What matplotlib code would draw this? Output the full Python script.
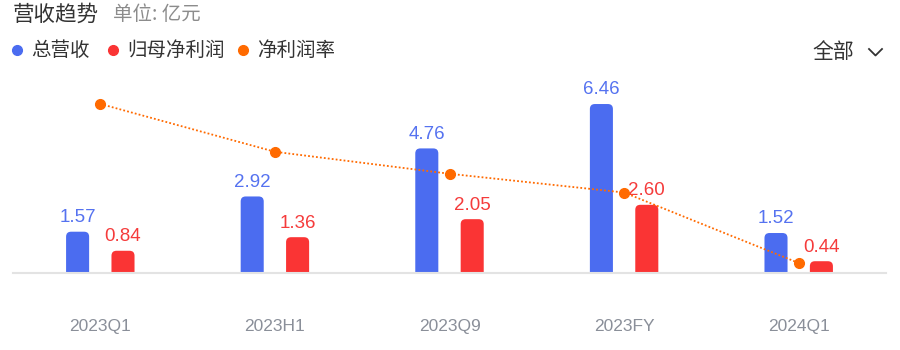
import matplotlib
matplotlib.use("Agg")
import matplotlib.pyplot as plt
from matplotlib.patches import FancyBboxPatch
from matplotlib.lines import Line2D
import numpy as np

plt.rcParams['font.family'] = ['Liberation Sans', 'Noto Sans CJK SC', 'DejaVu Sans']

categories = ["2023Q1", "2023H1", "2023Q9", "2023FY", "2024Q1"]
revenue = [1.57, 2.92, 4.76, 6.46, 1.52]
net_profit = [0.84, 1.36, 2.05, 2.60, 0.44]
net_margin = [53.5, 46.1, 42.7, 39.8, 28.9]

BLUE = "#4B6CF0"
RED = "#FA3434"
ORANGE = "#FF6A00"

W, H = 900, 350
fig = plt.figure(figsize=(9, 3.5), dpi=100)

ax_left, ax_right = 13, 886
ax_bottom_px, ax_top_px = 272.7, 80
ax = fig.add_axes([ax_left / W, (H - ax_bottom_px) / H,
                   (ax_right - ax_left) / W, (ax_bottom_px - ax_top_px) / H])
x = np.arange(len(categories))
ax.set_xlim(-0.5, len(categories) - 0.5)
ax.set_ylim(0, 7.38)

bw = 0.132
off = 0.13
bars_b = ax.bar(x - off, revenue, width=bw, color=BLUE)
bars_r = ax.bar(x + off, net_profit, width=bw, color=RED)

# Replace with rounded-top bars
px_per_x = (ax_right - ax_left) / 5.0
px_per_y = (ax_bottom_px - ax_top_px) / 7.38
r_px = 5
r_x = r_px / px_per_x
aspect = (1 / px_per_y) / (1 / px_per_x)
for bars, col in ((bars_b, BLUE), (bars_r, RED)):
    for b in bars:
        b.set_visible(False)
        bx, bwid, bh = b.get_x(), b.get_width(), b.get_height()
        ext = r_x * aspect
        p = FancyBboxPatch((bx, -ext), bwid, bh + ext,
                           boxstyle=f"round,pad=0,rounding_size={r_x}",
                           mutation_aspect=aspect, facecolor=col,
                           edgecolor='none', clip_on=True, zorder=2)
        ax.add_patch(p)

for xi, v in zip(x, revenue):
    ax.annotate(f"{v:.2f}", (xi - off, v), xytext=(0, 4), textcoords='offset points',
                ha='center', va='bottom', color="#5572F0", fontsize=13.5)
for xi, v in zip(x, net_profit):
    ax.annotate(f"{v:.2f}", (xi + off, v), xytext=(0, 4), textcoords='offset points',
                ha='center', va='bottom', color="#F53B3B", fontsize=13.5)

for s in ['top', 'right', 'left']:
    ax.spines[s].set_visible(False)
ax.spines['bottom'].set_color('#E3E3E3')
ax.spines['bottom'].set_linewidth(1.5)
ax.set_yticks([])
ax.set_xticks(x)
ax.set_xticklabels(categories, color="#8A8F99", fontsize=12.5)
ax.tick_params(axis='x', length=0, pad=33)

ax2 = ax.twinx()
ax2.set_ylim(27.4, 57.2)
ax2.plot(x, net_margin, color=ORANGE, linestyle=(0, (1, 1.2)), linewidth=1.3,
         marker='o', markersize=7, zorder=5)
ax2.set_yticks([])
for s in ax2.spines.values():
    s.set_visible(False)
ax2.set_xlim(-0.5, len(categories) - 0.5)

# Title
fig.text(13 / W, 1 - 15 / H, "营收趋势", fontsize=15.5, color="#333333", va='center', ha='left',
         family=['Noto Sans CJK SC'])
fig.text(113 / W, 1 - 15 / H, "单位: 亿元", fontsize=14, color="#8C8C8C", va='center', ha='left',
         family=['Noto Sans CJK SC'])

# Legend
legend_items = [("总营收", BLUE, 17), ("归母净利润", RED, 113), ("净利润率", ORANGE, 243)]
for label, col, px in legend_items:
    fig.add_artist(Line2D([px / W], [1 - 50 / H], marker='o', color=col, markersize=7,
                          linestyle='none', transform=fig.transFigure))
    fig.text((px + 14) / W, 1 - 50 / H, label, fontsize=14, color="#333333", va='center',
             ha='left', family=['Noto Sans CJK SC'])

fig.text(812 / W, 1 - 52 / H, "全部", fontsize=15, color="#333333", va='center', ha='left',
         family=['Noto Sans CJK SC'])
fig.add_artist(Line2D([869 / W, 875.5 / W, 882 / W], [1 - 49 / H, 1 - 55.5 / H, 1 - 49 / H],
                      color="#333333", linewidth=1.3, transform=fig.transFigure))

fig.savefig("out.png", dpi=100)
